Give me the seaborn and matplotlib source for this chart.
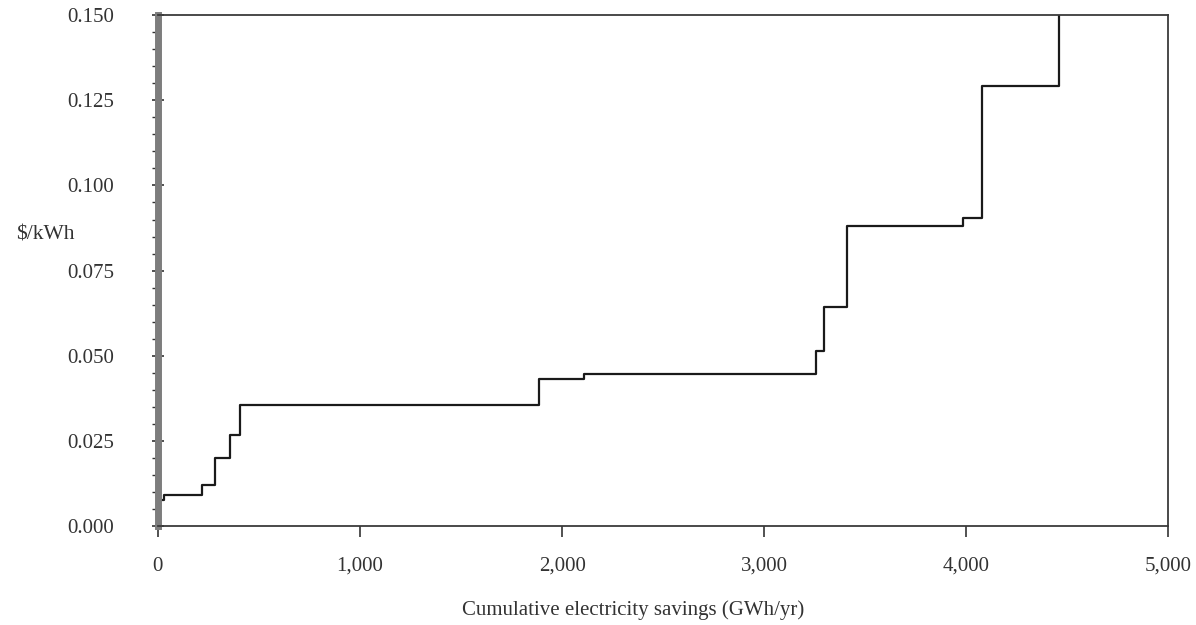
import matplotlib
matplotlib.use("Agg")
import matplotlib.pyplot as plt
from matplotlib.ticker import MultipleLocator, FuncFormatter
import seaborn as sns
import pandas as pd

sns.set_style("ticks")
plt.rcParams["font.family"] = ["Liberation Serif", "DejaVu Serif"]

# step edges (GWh/yr) and cost of each block ($/kWh)
savings_edges = [0, 0, 30, 220, 285, 357, 407, 1885, 2108, 3257, 3294, 3408, 3981, 4079, 4457]
cost_levels = [0.0, 0.0076, 0.0092, 0.0121, 0.0201, 0.0267, 0.0357, 0.0433, 0.0447,
               0.0514, 0.0643, 0.0882, 0.0905, 0.1293, 0.16]
x_ticks = [0, 1000, 2000, 3000, 4000, 5000]
y_ticks = [0.0, 0.025, 0.05, 0.075, 0.1, 0.125, 0.15]

df = pd.DataFrame({"savings": savings_edges, "cost": cost_levels})

txt = "#333333"
fig = plt.figure(figsize=(11.96, 6.25), dpi=100)
ax = fig.add_axes([0.132, 0.158, 0.845, 0.818])

sns.lineplot(data=df, x="savings", y="cost", ax=ax, drawstyle="steps-post",
             color="#1a1a1a", linewidth=1.6, sort=False, estimator=None)

ax.set_xlim(0, 5000)
ax.set_ylim(0, 0.15)
ax.set_xticks(x_ticks)
ax.set_yticks(y_ticks)
ax.yaxis.set_minor_locator(MultipleLocator(0.005))
ax.xaxis.set_major_formatter(FuncFormatter(lambda v, p: f"{int(v):,}"))
ax.yaxis.set_major_formatter(FuncFormatter(lambda v, p: f"{v:.3f}"))

ax.tick_params(axis="x", direction="out", length=8, width=1.2, pad=14,
               labelsize=15, colors=txt)
ax.tick_params(axis="y", which="major", direction="inout", length=9, width=1.2,
               pad=27, labelsize=15, colors=txt)
ax.tick_params(axis="y", which="minor", direction="out", length=4, width=1.0, color=txt)

for side in ["top", "right", "bottom"]:
    ax.spines[side].set_visible(True)
    ax.spines[side].set_color("#3a3a3a")
    ax.spines[side].set_linewidth(1.3)
ax.spines["left"].set_color("#7d7d7d")
ax.spines["left"].set_linewidth(5)

ax.set_xlabel("Cumulative electricity savings (GWh/yr)", fontsize=15, color=txt, va="center")
ax.xaxis.set_label_coords(0.47, -0.165)
ax.set_ylabel("$/kWh", fontsize=15.5, color=txt, rotation=0, ha="center", va="center")
ax.yaxis.set_label_coords(-0.111, 0.57)

fig.savefig("out.png", dpi=100)
plt.close(fig)
